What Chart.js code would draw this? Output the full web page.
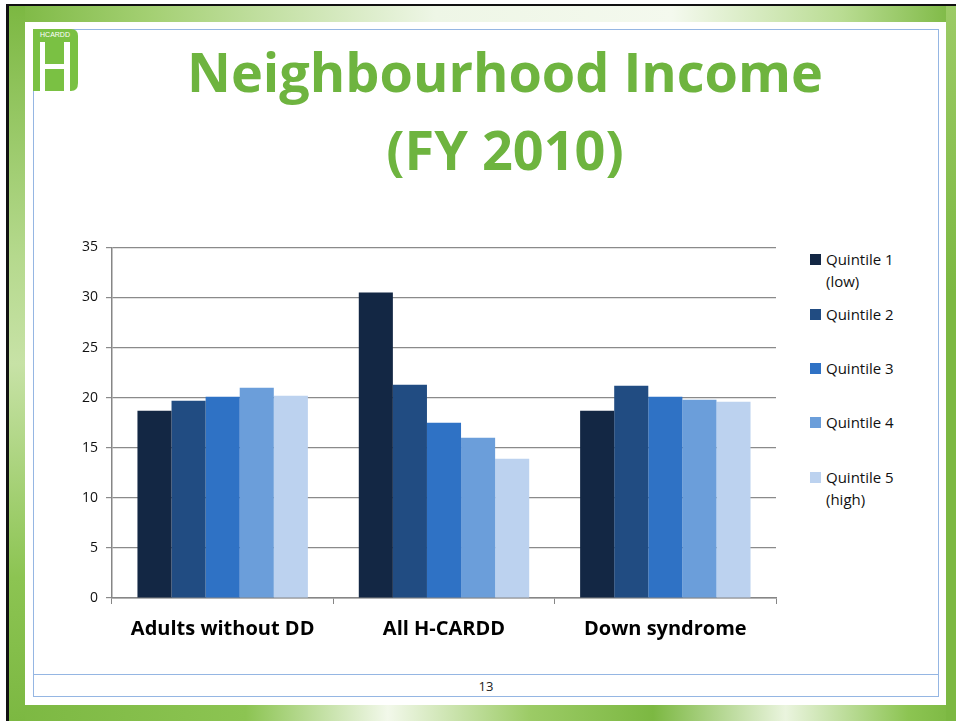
<!DOCTYPE html>
<html lang="en">
<head>
  <meta charset="UTF-8">
  <title>Neighbourhood Income (FY 2010)</title>
  <script src="https://cdn.jsdelivr.net/npm/chart.js"></script>
  <style>
    html, body { margin: 0; padding: 0; }
    body {
      width: 956px; height: 721px; position: relative; overflow: hidden;
      background: #fff; font-family: "Open Sans", sans-serif;
    }
    .frame {
      position: absolute; left: 6px; top: 4px; right: 0; bottom: 0;
      border-left: 3px solid #111; border-top: 2px solid #111;
      background: #7cb842;
    }
    .strip { position: absolute; }
    .strip.top { left: 0; right: 0; top: 0; height: 18px;
      background: linear-gradient(90deg, #7cb842 0%, #a4d073 15%, #eef6e6 45%, #f4f9ee 70%, #b9dc92 88%, #7cb842 100%); }
    .strip.bottom { left: 0; right: 0; bottom: 0; height: 18px;
      background: linear-gradient(90deg, #7cb842 0%, #8cc452 25%, #f2f8ea 40%, #9ccb66 55%, #7cb842 68%, #eaf4de 82%, #8cc452 95%, #7cb842 100%); }
    .strip.left { left: 0; top: 0; bottom: 0; width: 16px;
      background: linear-gradient(180deg, #7cb842 0%, #b5d98d 35%, #c7e2a6 50%, #8cc452 80%, #7cb842 100%); }
    .strip.right { right: 0; top: 0; bottom: 0; width: 10px;
      background: linear-gradient(180deg, #9ccb66 0%, #7cb842 40%, #7cb842 100%); }
    .inner {
      position: absolute; left: 25px; top: 22px; width: 921px; height: 683px; background: #fff;
    }
    .outline {
      position: absolute; left: 33px; top: 29px; width: 904px; height: 666px;
      border: 1.5px solid #95b6e3;
    }
    .footer-line {
      position: absolute; left: 33px; top: 674px; width: 906px; height: 0;
      border-top: 1.5px solid #95b6e3;
    }
    .page-no {
      position: absolute; left: 33px; width: 906px; top: 677px; text-align: center;
      font-size: 13px; color: #222;
    }
    .logo { position: absolute; left: 33px; top: 29px; }
    .title {
      position: absolute; left: 33px; width: 944px; top: 32px; text-align: center;
      color: #6eb43f; font-weight: bold; font-size: 54px; line-height: 78px;
    }
    #chartBox { position: absolute; left: 40px; top: 231px; width: 740px; height: 425px; }
    #legend { position: absolute; left: 810px; top: 248px; font-size: 15px; color: #111; }
    .item { position: absolute; left: 0; white-space: nowrap; line-height: 22px; }
    .item span.sw { position: absolute; left: 0; top: 6px; width: 11px; height: 11px; }
    .item div { padding-left: 16px; }
  </style>
</head>
<body>
  <div class="frame">
    <div class="strip top"></div>
    <div class="strip bottom"></div>
    <div class="strip left"></div>
    <div class="strip right"></div>
  </div>
  <div class="inner"></div>
  <div class="outline"></div>
  <div class="footer-line"></div>
  <div class="page-no">13</div>
  <svg class="logo" width="45" height="62" viewBox="0 0 45 62">
    <path d="M0 0 H38 Q45 0 45 7 V54 Q45 62 38 62 H0 Z" fill="#7ac143"/>
    <text x="22" y="8" fill="#fff" font-size="7" text-anchor="middle" font-family="Liberation Sans">HCARDD</text>
    <rect x="7" y="13" width="5" height="49" fill="#fff"/>
    <rect x="31" y="13" width="6" height="49" fill="#fff"/>
    <rect x="12" y="35" width="19" height="5" fill="#fff"/>
  </svg>
  <div class="title">Neighbourhood Income<br>(FY 2010)</div>
  <div id="chartBox"><canvas id="incomeChart"></canvas></div>
  <div id="legend"></div>

  <script>
    // data
    const categories = ['Adults without DD', 'All H-CARDD', 'Down syndrome'];
    const seriesNames = [['Quintile 1', '(low)'], ['Quintile 2'], ['Quintile 3'], ['Quintile 4'], ['Quintile 5', '(high)']];
    const seriesColors = ['#132744', '#214c82', '#2f72c5', '#6b9eda', '#bcd2ef'];
    const quintile1 = [18.7, 30.5, 18.7];
    const quintile2 = [19.7, 21.3, 21.2];
    const quintile3 = [20.1, 17.5, 20.1];
    const quintile4 = [21.0, 16.0, 19.8];
    const quintile5 = [20.2, 13.9, 19.6];
    const yMin = 0, yMax = 35, yStep = 5;

    const seriesValues = [quintile1, quintile2, quintile3, quintile4, quintile5];

    // legend on the right
    const legend = document.getElementById('legend');
    const legendTops = [0, 55, 109, 163, 218];
    seriesNames.forEach((name, i) => {
      const item = document.createElement('div');
      item.className = 'item';
      item.style.top = legendTops[i] + 'px';
      item.innerHTML = '<span class="sw" style="background:' + seriesColors[i] + '"></span><div>' + name.join('<br>') + '</div>';
      legend.appendChild(item);
    });

    const ctx = document.getElementById('incomeChart').getContext('2d');
    new Chart(ctx, {
      type: 'bar',
      data: {
        labels: categories,
        datasets: seriesValues.map((vals, i) => ({
          label: seriesNames[i].join(' '),
          data: vals,
          backgroundColor: seriesColors[i],
          borderWidth: 0,
          categoryPercentage: 0.77,
          barPercentage: 1.0
        }))
      },
      options: {
        responsive: true,
        maintainAspectRatio: false,
        animation: false,
        layout: { padding: { top: 10, right: 4, left: 0, bottom: 0 } },
        plugins: { legend: { display: false }, tooltip: { enabled: false } },
        scales: {
          x: {
            grid: { display: true, drawOnChartArea: false, drawTicks: true, tickLength: 6, color: '#868686', offset: true },
            border: { color: '#868686', width: 1.5 },
            ticks: { color: '#000', padding: 13, font: { family: 'Open Sans', size: 20, weight: 'bold' } },
            afterFit: (scale) => { scale.height = 58; }
          },
          y: {
            min: yMin, max: yMax,
            grid: { color: '#8a8a8a', lineWidth: 1.2, tickLength: 6 },
            border: { color: '#868686', width: 1.5 },
            ticks: { stepSize: yStep, color: '#111', padding: 8, font: { family: 'Open Sans', size: 14 } },
            afterFit: (scale) => { scale.width = 72; }
          }
        }
      }
    });
  </script>
</body>
</html>
